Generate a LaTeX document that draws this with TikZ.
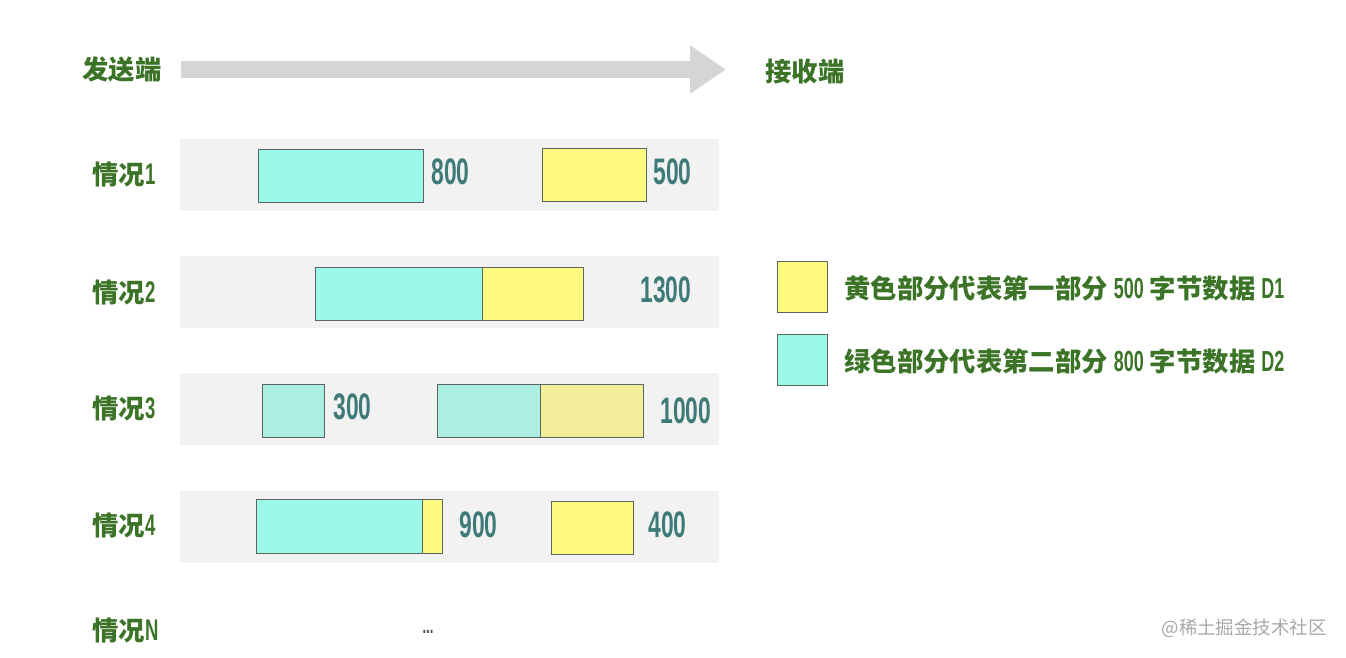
\documentclass[tikz,border=0pt]{standalone}
\usepackage{fontspec}
\usepackage{xcolor}
\usepackage{tikz}
\usetikzlibrary{arrows.meta}
\newfontfamily\cjk{Noto Sans CJK SC}
\newfontfamily\numf{Liberation Sans}[FakeStretch=0.62]
\definecolor{labelgreen}{HTML}{3B7327}
\definecolor{numteal}{HTML}{3E7B78}
\definecolor{lanegray}{HTML}{F2F2F2}
\definecolor{arrowgray}{HTML}{D5D5D5}
\definecolor{segedge}{HTML}{5C6560}
\definecolor{mint}{HTML}{9BF9E9}
\definecolor{lemon}{HTML}{FEFA80}
\definecolor{palemint}{HTML}{ABEFE3}
\definecolor{palelemon}{HTML}{F3EE99}
\definecolor{markgray}{HTML}{A8A8A8}
\tikzset{
  lane/.style={fill=lanegray, draw=none},
  dseg/.style={fill=mint, draw=segedge, line width=0.5pt},
  yseg/.style={fill=lemon, draw=segedge, line width=0.5pt},
  dsegpale/.style={fill=palemint, draw=segedge, line width=0.5pt},
  ysegpale/.style={fill=palelemon, draw=segedge, line width=0.5pt},
  flow/.style={draw=arrowgray, line width=0.34cm, -{Triangle[length=0.72cm, width=0.92cm]}},
  endlbl/.style={anchor=west, inner sep=0pt, text=labelgreen, font=\cjk\bfseries\fontsize{15pt}{15pt}\selectfont},
  caselbl/.style={anchor=west, inner sep=0pt, text=labelgreen, font=\cjk\bfseries\fontsize{15pt}{15pt}\selectfont},
  numlbl/.style={anchor=west, inner sep=0pt, text=numteal, font=\numf\bfseries\fontsize{21pt}{21pt}\selectfont},
  legtext/.style={anchor=west, inner sep=0pt, text=labelgreen, font=\cjk\bfseries\fontsize{15pt}{15pt}\selectfont},
}
\newcommand{\casenum}[1]{{\numf\bfseries\fontsize{17pt}{17pt}\selectfont #1}}
\newcommand{\legnum}[1]{{\numf\bfseries\fontsize{16.5pt}{16.5pt}\selectfont #1}}

\begin{document}
\begin{tikzpicture}[x=0.02cm, y=-0.02cm]
  \useasboundingbox (0,0) rectangle (1346,658);

  % sender -> receiver
  \node[endlbl] (send) at (82,70) {发送端};
  \node[endlbl] (recv) at (765,72) {接收端};
  \coordinate (flowstart) at (181,69.5);
  \coordinate (flowend) at (726,69.5);
  \draw[flow] (flowstart) -- (flowend);

  % lanes
  \foreach \y in {139,256,373,491}
    \fill[lane] (180,\y) rectangle (719,\y+72);

  \node[caselbl] (case1) at (92,175) {情况\casenum{1}};
  \node[caselbl] (case2) at (92,293) {情况\casenum{2}};
  \node[caselbl] (case3) at (92,409) {情况\casenum{3}};
  \node[caselbl] (case4) at (92,526) {情况\casenum{4}};
  \node[caselbl] (caseN) at (92,631) {情况\casenum{N}};

  % case 1
  \filldraw[dseg] (258,149) rectangle (423,202);
  \node[numlbl] (n800) at (431,172) {800};
  \filldraw[yseg] (542,148) rectangle (646,201);
  \node[numlbl] (n500) at (653,172) {500};

  % case 2
  \filldraw[dseg] (315,267) rectangle (482,320);
  \filldraw[yseg] (482,267) rectangle (583,320);
  \node[numlbl] (n1300) at (640,290) {1300};

  % case 3
  \filldraw[dsegpale] (262,384) rectangle (324,437);
  \node[numlbl] (n300) at (333,407) {300};
  \filldraw[dsegpale] (437,384) rectangle (540,437);
  \filldraw[ysegpale] (540,384) rectangle (643,437);
  \node[numlbl] (n1000) at (660,411) {1000};

  % case 4
  \filldraw[dseg] (256,499) rectangle (422,553);
  \filldraw[yseg] (422,499) rectangle (442,553);
  \node[numlbl] (n900) at (459,525) {900};
  \filldraw[yseg] (551,501) rectangle (633,554);
  \node[numlbl] (n400) at (648,525) {400};

  \node[inner sep=0pt, text=black!70, font=\numf\bfseries\fontsize{12pt}{12pt}\selectfont] (more) at (428,632) {...};

  % legend
  \filldraw[yseg] (777,261) rectangle (827,312);
  \node[legtext] (legd1) at (844,288) {黄色部分代表第一部分 \legnum{500} 字节数据 \legnum{D1}};
  \filldraw[dseg] (777,334) rectangle (827,385);
  \node[legtext] (legd2) at (844,361) {绿色部分代表第二部分 \legnum{800} 字节数据 \legnum{D2}};

  \node[anchor=east, inner sep=0pt, text=markgray, font=\cjk\fontsize{10.5pt}{10.5pt}\selectfont] (mark) at (1327,628) {@稀土掘金技术社区};
\end{tikzpicture}
\end{document}
